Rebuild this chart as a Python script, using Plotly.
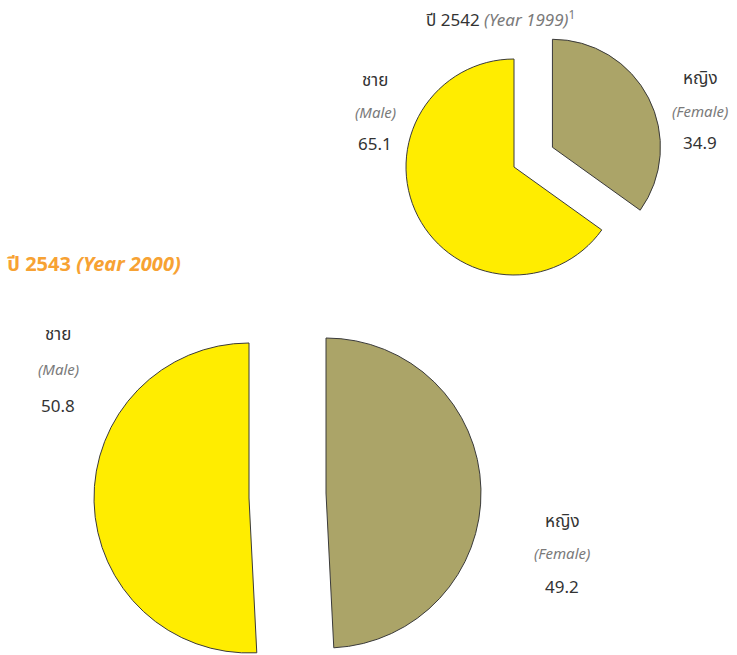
import plotly.graph_objects as go

W, H = 737, 655

labels = ["ชาย", "หญิง"]
labels_en = ["Male", "Female"]
values_1999 = [65.1, 34.9]
values_2000 = [50.8, 49.2]
colors = ["#FFED00", "#ABA468"]
LINE = "#3a3a3a"
FONT = "Noto Sans, Noto Sans Thai, DejaVu Sans, sans-serif"
DIRECTION = "clockwise"
CLEAR = "rgba(0,0,0,0)"


def dom_x(a, b):
    return [a / W, b / W]


def dom_y(top, bottom):
    return [1 - bottom / H, 1 - top / H]


def rev(a):
    return list(a)[::-1]


fig = go.Figure()

# Year 1999 pie (female slice pulled out); female first so it runs clockwise from 12 o'clock
fig.add_trace(go.Pie(
    labels=rev(labels), values=rev(values_1999), sort=False, direction=DIRECTION,
    rotation=0, pull=[0.4, 0], textinfo="none", hoverinfo="label+value",
    marker=dict(colors=rev(colors), line=dict(color=LINE, width=1)),
    domain=dict(x=dom_x(362.8, 665.2), y=dom_y(15.8, 318.2)),
    showlegend=False,
))

# Year 2000 pie: two traces so each half sits at its own centre
fig.add_trace(go.Pie(
    labels=rev(labels), values=rev(values_2000), sort=False, direction=DIRECTION,
    rotation=0, textinfo="none", hoverinfo="label+value",
    marker=dict(colors=[CLEAR, colors[0]], line=dict(color=[CLEAR, LINE], width=[0, 1])),
    domain=dict(x=dom_x(94, 404), y=dom_y(343, 653)),
    showlegend=False,
))
fig.add_trace(go.Pie(
    labels=rev(labels), values=rev(values_2000), sort=False, direction=DIRECTION,
    rotation=0, textinfo="none", hoverinfo="label+value",
    marker=dict(colors=[colors[1], CLEAR], line=dict(color=[LINE, CLEAR], width=[1, 0])),
    domain=dict(x=dom_x(171, 481), y=dom_y(338, 648)),
    showlegend=False,
))

DARK = "#333333"
GREY = "#7a7a7a"
ORANGE = "#F7A233"


def ann(x, y, text, color=DARK, size=17, xanchor="center"):
    fig.add_annotation(x=x / W, y=1 - y / H, xref="paper", yref="paper", text=text,
                       showarrow=False, xanchor=xanchor, yanchor="middle",
                       font=dict(family=FONT, size=size, color=color))


# titles
ann(424, 18, f"ปี 2542 <i><span style='color:{GREY}'>(Year 1999)</span></i><sup><span style='color:{GREY}'>1</span></sup>",
    size=17, xanchor="left")
ann(5, 263, f"<b>ปี 2543 <i>(Year 2000)</i></b>", color=ORANGE, size=20, xanchor="left")

# labels 1999
ann(375, 80, labels[0])
ann(375, 112, f"<i>({labels_en[0]})</i>", color=GREY, size=15)
ann(375, 143, f"{values_1999[0]}")
ann(700, 78, labels[1])
ann(700, 111, f"<i>({labels_en[1]})</i>", color=GREY, size=15)
ann(700, 142, f"{values_1999[1]}")

# labels 2000
ann(58, 333, labels[0])
ann(58, 369, f"<i>({labels_en[0]})</i>", color=GREY, size=15)
ann(58, 405, f"{values_2000[0]}")
ann(562, 520, labels[1])
ann(562, 553, f"<i>({labels_en[1]})</i>", color=GREY, size=15)
ann(562, 586, f"{values_2000[1]}")

fig.update_layout(width=W, height=H, margin=dict(l=0, r=0, t=0, b=0),
                  paper_bgcolor="white", plot_bgcolor="white")

fig.write_html("out.html", config={"displayModeBar": False},
               post_script="document.body.style.margin='0';")
